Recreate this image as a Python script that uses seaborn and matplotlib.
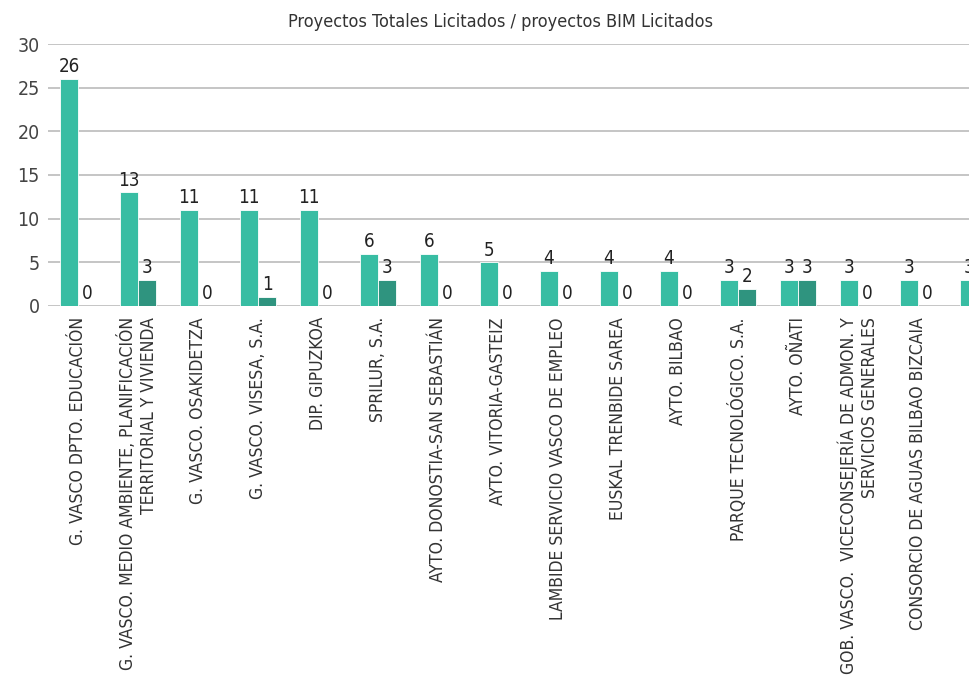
import pandas as pd
import seaborn as sns
import matplotlib.pyplot as plt

sns.set_theme(style="white")
plt.rcParams['font.family'] = ['DejaVu Sans']
plt.rcParams['font.stretch'] = 'condensed'

# Datos
organismos = [
    "G. VASCO DPTO. EDUCACIÓN",
    "G. VASCO. MEDIO AMBIENTE, PLANIFICACIÓN\nTERRITORIAL Y VIVIENDA",
    "G. VASCO. OSAKIDETZA",
    "G. VASCO. VISESA, S.A.",
    "DIP. GIPUZKOA",
    "SPRILUR, S.A.",
    "AYTO. DONOSTIA-SAN SEBASTIÁN",
    "AYTO. VITORIA-GASTEIZ",
    "LAMBIDE SERVICIO VASCO DE EMPLEO",
    "EUSKAL TRENBIDE SAREA",
    "AYTO. BILBAO",
    "PARQUE TECNOLÓGICO. S.A.",
    "AYTO. OÑATI",
    "GOB. VASCO.  VICECONSEJERÍA DE ADMON. Y\nSERVICIOS GENERALES",
    "CONSORCIO DE AGUAS BILBAO BIZCAIA",
    "MIN. FOMENTO AUT. PORT. PASAJES",
]
totales = [26, 13, 11, 11, 11, 6, 6, 5, 4, 4, 4, 3, 3, 3, 3, 3]
bim = [0, 3, 0, 1, 0, 3, 0, 0, 0, 0, 0, 2, 3, 0, 0, 0]
series = ["Proyectos Totales Licitados", "Proyectos BIM Licitados"]

df = pd.DataFrame({"organismo": organismos, series[0]: totales, series[1]: bim})
df_long = df.melt(id_vars="organismo", var_name="serie", value_name="n")

fig = plt.figure(figsize=(9.7, 6.83), dpi=100)
# los ejes se salen por la derecha, como en la imagen recortada
ax = fig.add_axes([48 / 970, 377 / 683, 960 / 970, 262 / 683])

sns.barplot(data=df_long, x="organismo", y="n", hue="serie", order=organismos,
            hue_order=series, palette=["#38BDA3", "#2F947F"], saturation=1,
            width=0.6, gap=0, edgecolor="white", linewidth=0.6, legend=False,
            ax=ax, zorder=3)

for cont in ax.containers:
    ax.bar_label(cont, padding=2, fontsize=13.5, color="#222222")

ax.set_ylim(0, 30)
ax.set_xlim(-0.5, len(organismos) - 0.5)
ax.set_yticks(range(0, 31, 5))
ax.yaxis.grid(True, color="#b5b5b5", linewidth=1.1, zorder=0)
ax.xaxis.grid(False)
for s in ax.spines.values():
    s.set_visible(False)
ax.tick_params(axis="y", length=0, pad=6, labelsize=14, labelcolor="#444444")
ax.tick_params(axis="x", length=0, pad=8)
ax.set_xticks(range(len(organismos)))
ax.set_xticklabels(organismos, rotation=90, fontsize=12.6, color="#333333",
                   ha="center", va="top", multialignment="right")
ax.set_xlabel("")
ax.set_ylabel("")

fig.text(501 / 970, 1 - 22 / 683, "Proyectos Totales Licitados / proyectos BIM Licitados",
         ha="center", va="center", fontsize=13, color="#333333")

fig.savefig("out.png", dpi=100)
